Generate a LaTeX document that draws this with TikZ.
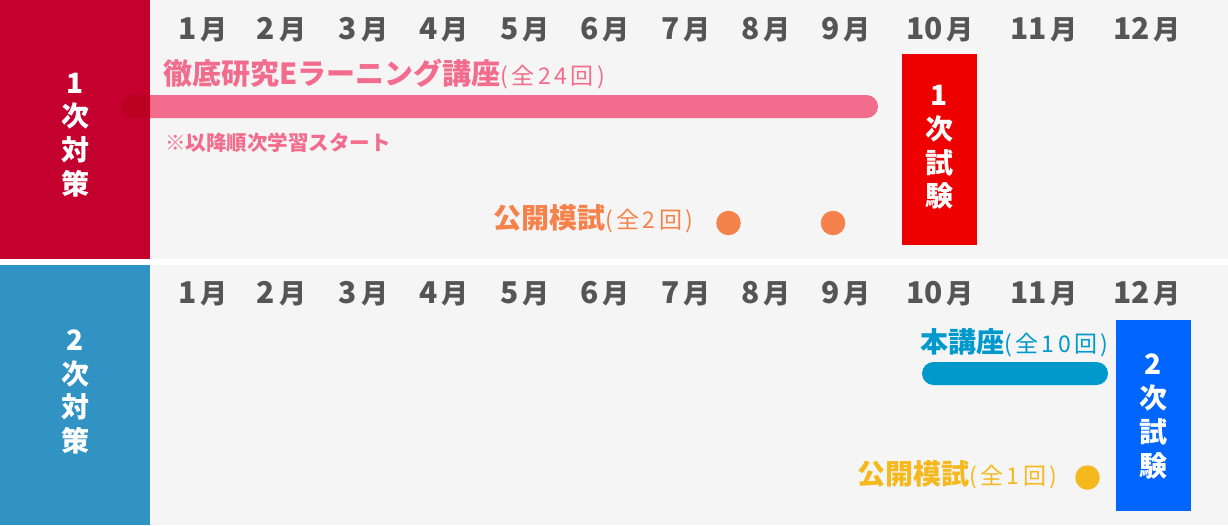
\documentclass[tikz,border=0pt]{standalone}
\usepackage{fontspec}
\newfontfamily\jp{Noto Sans CJK JP}
\newfontfamily\jpsp{Noto Sans CJK JP}[LetterSpace=15]
\definecolor{panelbg}{HTML}{F5F5F5}
\definecolor{firstred}{HTML}{C4002F}
\definecolor{secondblue}{HTML}{3193C4}
\definecolor{barpink}{HTML}{F26D8D}
\definecolor{bardark}{HTML}{BC0022}
\definecolor{examred}{HTML}{EE0000}
\definecolor{examblue}{HTML}{0066FF}
\definecolor{mockorange}{HTML}{F5824A}
\definecolor{mockyellow}{HTML}{F5B91E}
\definecolor{coursecyan}{HTML}{0099CC}
\definecolor{monthgray}{HTML}{555555}
\newcommand\monthlabel[1]{{\fontsize{30}{30}\selectfont#1}\hspace{4pt}月}
\newcommand\sessions[1]{{\jpsp\mdseries\fontsize{23}{23}\selectfont(#1)}}
\begin{document}
\begin{tikzpicture}[x=1pt,y=-1pt,
	month/.style={font=\jp\bfseries\fontsize{27}{27}\selectfont,text=monthgray,inner sep=0pt},
	stack/.style={font=\jp\bfseries\fontsize{28}{33.8}\selectfont,text=white,align=center,inner sep=0pt},
	label/.style={font=\jp\bfseries\fontsize{28}{28}\selectfont,anchor=west,inner sep=0pt},
	dot/.style={circle,inner sep=0pt,minimum size=24.5pt}]
	\useasboundingbox (0,0) rectangle (1228,525);
	\fill[white] (0,0) rectangle (1228,525);
	\fill[panelbg] (150,0) rectangle (1228,259);
	\fill[panelbg] (150,265) rectangle (1228,525);
	
	% 1次対策
	\fill[barpink,rounded corners=11.5pt] (122,95) rectangle (878,118);
	\fill[firstred] (0,0) rectangle (150,259);
	\begin{scope}
		\clip (0,0) rectangle (150,259);
		\fill[bardark,rounded corners=11.5pt] (122,95) rectangle (878,118);
	\end{scope}
	\node (sideA) [stack] at (75,135) {1\\次\\対\\策};
	\foreach \x [count=\i] in {203,281.5,363.5,444,525,605,686,766,846,940,1044,1147}
		\node (monthA\i) [month] at (\x,29.5) {\monthlabel{\i}};
	\node (elearn) [label,font=\jp\bfseries\fontsize{29}{29}\selectfont,text=barpink] at (163,74) {徹底研究Eラーニング講座\sessions{全24回}};
	\node (note) [font=\jp\bfseries\fontsize{20.5}{20.5}\selectfont,text=barpink,anchor=west,inner sep=0pt] at (165,143) {※以降順次学習スタート};
	\node (mockA) [label,text=mockorange] at (493,219) {公開模試\sessions{全2回}};
	\node (mockA1) [dot,fill=mockorange] at (728.5,223) {};
	\node (mockA2) [dot,fill=mockorange] at (833,223) {};
	\fill[examred] (902,54) rectangle (977,245);
	\node (examA) [stack] at (939.5,147.5) {1\\次\\試\\験};
	
	% 2次対策
	\fill[secondblue] (0,265) rectangle (150,525);
	\node (sideB) [stack] at (75,392) {2\\次\\対\\策};
	\foreach \x [count=\i] in {203,281.5,363.5,444,525,605,686,766,846,940,1044,1147}
		\node (monthB\i) [month] at (\x,294) {\monthlabel{\i}};
	\node (course) [label,text=coursecyan] at (920,342.5) {本講座\sessions{全10回}};
	\fill[coursecyan,rounded corners=11.5pt] (922,362) rectangle (1108,385);
	\node (mockB) [label,text=mockyellow] at (857,474.5) {公開模試\sessions{全1回}};
	\node (mockB1) [dot,fill=mockyellow] at (1087.5,477.5) {};
	\fill[examblue] (1116,320) rectangle (1191,511);
	\node (examB) [stack] at (1153.5,416.5) {2\\次\\試\\験};
\end{tikzpicture}
\end{document}
